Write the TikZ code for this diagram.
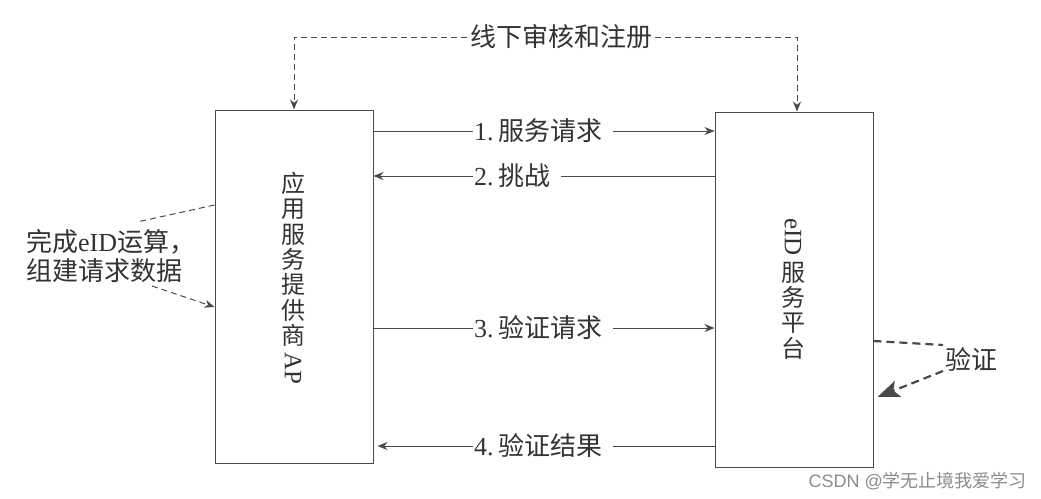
\documentclass[tikz,border=0pt]{standalone}
\usepackage{fontspec}
\setmainfont{Liberation Serif}
\setsansfont{Liberation Sans}
\newfontfamily\cjk{Noto Sans CJK SC}
\usetikzlibrary{arrows.meta}
\definecolor{linec}{HTML}{4A4A4A}
\definecolor{txtc}{HTML}{333333}
\begin{document}
\begin{tikzpicture}[x=1pt,y=-1pt,
  box/.style={draw=linec, line width=1pt, inner sep=0pt, minimum width=158pt},
  line/.style={draw=linec, line width=1pt},
  arr/.style={line, -{Stealth[length=10pt,width=8pt]}},
  dline/.style={line, dash pattern=on 6pt off 4pt},
  darr/.style={dline, -{Stealth[length=10pt,width=8pt]}},
  thickd/.style={draw=linec, line width=2.2pt, dash pattern=on 8pt off 5pt},
  lab/.style={text=txtc, font=\fontsize{26}{29}\selectfont, inner sep=3pt},
  vtext/.style={text=txtc, font=\cjk\fontsize{24}{25.3}\selectfont, align=center, inner sep=0pt},
  vlat/.style={text=txtc, font=\rmfamily\fontsize{25}{25}\selectfont, inner sep=0pt, rotate=-90}
]
\useasboundingbox (0,0) rectangle (1041,498);
\fill[white] (0,0) rectangle (1041,498);

% boxes
\node[box, minimum height=353pt] (ap) at (294,286.5) {};
\node[box, minimum height=355pt] (rp) at (794,289.5) {};

\node[vtext, anchor=north] (apt) at (293,172) {应\\用\\服\\务\\提\\供\\商};
\node[vlat, anchor=west] (apl) at ([yshift=-6pt]apt.south) {AP};
\node[vlat, anchor=west] (rpl) at (793,218) {eID};
\node[vtext, anchor=north] (rpt) at ([yshift=-6pt]rpl.east) {服\\务\\平\\台};

% top dashed registration
\node[lab] (top) at (561,37) {\cjk 线下审核和注册};
\draw[darr] (top.west) -| (ap.north);
\draw[darr] (top.east) -| ([xshift=3pt]rp.north);

% message arrows
\node[lab, anchor=west, inner sep=1pt] (l1) at (473,131) {1.\,{\cjk 服务请求}};
\draw[line] (ap.east |- l1) -- (l1.west);
\draw[arr] ([xshift=10pt]l1.east) -- (rp.west |- l1);

\node[lab, anchor=west, inner sep=1pt] (l2) at (473,176) {2.\,{\cjk 挑战}};
\draw[arr] (l2.west) -- (ap.east |- l2);
\draw[line] (rp.west |- l2) -- ([xshift=10pt]l2.east);

\node[lab, anchor=west, inner sep=1pt] (l3) at (473,328) {3.\,{\cjk 验证请求}};
\draw[line] (ap.east |- l3) -- (l3.west);
\draw[arr] ([xshift=10pt]l3.east) -- (rp.west |- l3);

\node[lab, anchor=west, inner sep=1pt] (l4) at (473,446) {4.\,{\cjk 验证结果}};
\draw[arr] (l4.west) -- ([xshift=4pt]ap.east |- l4);
\draw[line] (rp.west |- l4) -- ([xshift=10pt]l4.east);

% left note
\node[lab, anchor=west, align=left, inner sep=0pt] (nt) at (26,256) {{\cjk 完成}eID{\cjk 运算，}\\{\cjk 组建请求数据}};
\coordinate (n1) at (137,222);
\coordinate (n2) at (152,286);
\draw[dline] ([yshift=81.5pt]ap.west) -- (n1);
\draw[darr] (n2) -- ([yshift=-20.5pt]ap.west);

% right note
\node[lab, anchor=west, inner sep=2pt] (vr) at (943,359) {\cjk 验证};
\draw[thickd] ([yshift=-51.5pt]rp.east) -- ([yshift=14pt]vr.west);
\draw[thickd, -{Stealth[length=22pt,width=17pt,inset=5pt]}] ([yshift=-12pt]vr.west) -- ([xshift=4pt,yshift=-107.5pt]rp.east);

% watermark
\node[text=black!45, font=\sffamily\fontsize{18}{18}\selectfont, anchor=east, inner sep=0pt] (wm) at (1027,481) {CSDN @{\cjk 学无止境我爱学习}};
\end{tikzpicture}
\end{document}
